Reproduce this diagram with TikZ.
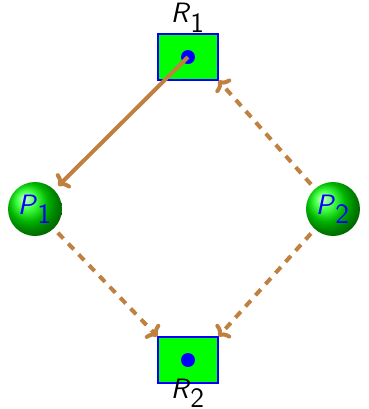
\documentclass[tikz,border=0pt]{standalone}
\usepackage{xcolor}
\usepackage{tikz}
\usetikzlibrary{arrows.meta}

\newcommand{\pname}[2]{\textsf{\textit{#1}}$_{\textsf{#2}}$}

\begin{document}
\begin{tikzpicture}[x=0.5pt, y=-0.5pt, font=\fontsize{14}{16}\selectfont\sffamily]
    % Estilos
    \tikzstyle{resbox}=[rectangle, draw=blue, line width=0.6pt, fill=green, minimum width=30pt, minimum height=23pt, inner sep=0pt]
    \tikzstyle{procball}=[circle, minimum size=27pt, inner sep=0pt, outer sep=3pt, shade, ball color=green, text=blue]
    \tikzstyle{link}=[draw=brown, line width=2pt, -{To[length=4.5pt, width=10pt]}]
    \tikzstyle{waitlink}=[link, dash pattern=on 4pt off 3.5pt]
    % Marco
    \useasboundingbox (0,0) rectangle (369,409);
    % Recursos
    \node[resbox, label={[inner sep=0.5pt]above:\pname{R}{1}}] (R1) at (188,57) {};
    \node[resbox, label={[inner sep=0pt, yshift=2.5pt]below:\pname{R}{2}}] (R2) at (188,360) {};
    \fill[blue] (R1.center) circle (3.5pt);
    \fill[blue] (R2.center) circle (3.5pt);
    % Procesos
    \node[procball] (P1) at (35,209) {\pname{P}{1}};
    \node[procball] (P2) at (333,209) {\pname{P}{2}};
    % Asignacion y peticiones
    \draw[link] (R1.center) -- (P1);
    \draw[waitlink] (P2) -- (R1.south east);
    \draw[waitlink] (P1) -- (R2.north west);
    \draw[waitlink] (P2) -- (R2.north east);
\end{tikzpicture}
\end{document}
